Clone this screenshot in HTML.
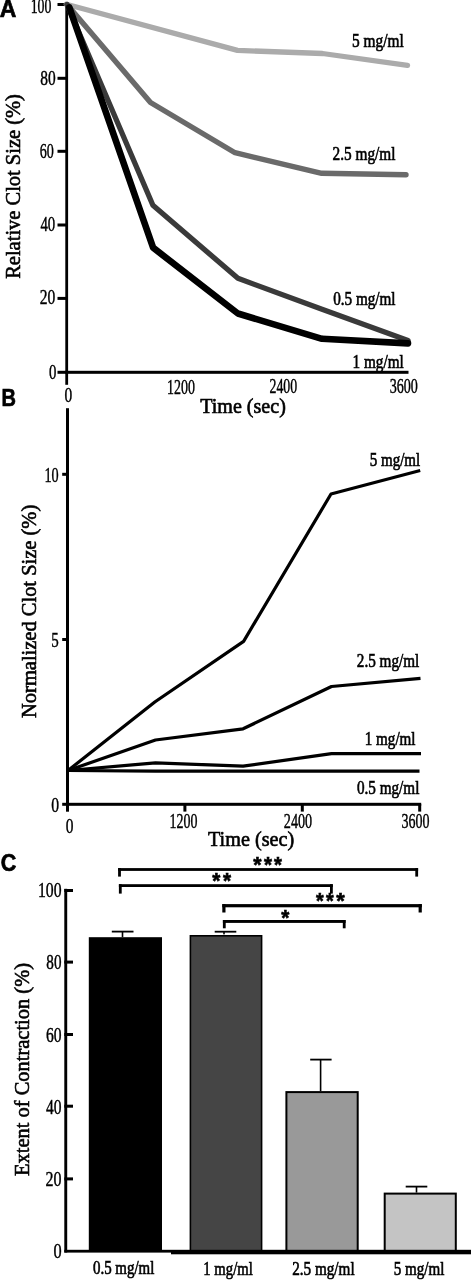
<!DOCTYPE html>
<html><head><meta charset="utf-8"><style>
html,body{margin:0;padding:0;background:#fff;}
body{width:471px;height:1280px;overflow:hidden;}
svg{display:block;will-change:transform;}
text{white-space:pre;}
</style></head><body>
<svg width="471" height="1280" viewBox="0 0 471 1280">
<rect width="471" height="1280" fill="#fff"/>
<rect x="65.3" y="3.0" width="2.80" height="381.80" fill="#000"/>
<rect x="57.5" y="3.0" width="8.50" height="3.00" fill="#000"/>
<rect x="57.5" y="76.8" width="8.50" height="3.00" fill="#000"/>
<rect x="57.5" y="149.8" width="8.50" height="3.00" fill="#000"/>
<rect x="57.5" y="223.5" width="8.50" height="3.00" fill="#000"/>
<rect x="57.5" y="296.9" width="8.50" height="3.00" fill="#000"/>
<rect x="57.5" y="370.8" width="8.50" height="3.00" fill="#000"/>
<rect x="65.3" y="370.8" width="343.20" height="3.00" fill="#000"/>
<polyline points="66.3,4.3 237.5,50.4 322.5,53.5 407.5,65.3" fill="none" stroke="#ababab" stroke-width="5.3" stroke-linecap="round" stroke-linejoin="round"/>
<polyline points="67,4.5 150.5,102.5 235,152.7 321.7,173.3 406,174.8" fill="none" stroke="#6a6a6a" stroke-width="5.4" stroke-linecap="round" stroke-linejoin="round"/>
<polyline points="67,4.5 152.9,205.3 237.9,278.3 322,309.2 408,340.5" fill="none" stroke="#3a3a3a" stroke-width="5.3" stroke-linecap="round" stroke-linejoin="round"/>
<polyline points="69.3,7.3 153.1,247.7 237.9,313.5 322,338.8 408,343.4" fill="none" stroke="#000" stroke-width="6.6" stroke-linecap="round" stroke-linejoin="round"/>
<rect x="66.0" y="408.2" width="3.00" height="403.50" fill="#000"/>
<rect x="62.2" y="472.8" width="4.30" height="3.00" fill="#000"/>
<rect x="62.2" y="638.0" width="4.30" height="3.00" fill="#000"/>
<rect x="62.2" y="802.8" width="4.30" height="3.00" fill="#000"/>
<rect x="66.0" y="802.8" width="355.20" height="3.00" fill="#000"/>
<rect x="183.4" y="804" width="3.00" height="7.60" fill="#000"/>
<rect x="300.8" y="804" width="3.00" height="7.60" fill="#000"/>
<rect x="418.2" y="804" width="3.00" height="7.60" fill="#000"/>
<polyline points="68,770.5 155.5,771.2 419.5,771.2" fill="none" stroke="#000" stroke-width="3.2" stroke-linecap="butt" stroke-linejoin="round"/>
<polyline points="68,770.5 155.5,762.8 243.1,766.2 331.5,753.6 421,753.6" fill="none" stroke="#000" stroke-width="3.2" stroke-linecap="butt" stroke-linejoin="round"/>
<polyline points="68,770.5 155.5,740 243.1,728.8 331.5,686.5 420.5,678.3" fill="none" stroke="#000" stroke-width="3.2" stroke-linecap="butt" stroke-linejoin="round"/>
<polyline points="68,770.5 154.8,702.0 243.6,641.4 331,494 420.2,470.5" fill="none" stroke="#000" stroke-width="3.2" stroke-linecap="butt" stroke-linejoin="round"/>
<rect x="88.8" y="937.2" width="73.20" height="313.80" fill="#000"/>
<rect x="190.4" y="935.8" width="71.20" height="315.20" fill="#454545" stroke="#000" stroke-width="1.6"/>
<rect x="286.4" y="1092.1" width="71.30" height="158.90" fill="#999" stroke="#000" stroke-width="2.0"/>
<rect x="384.7" y="1193.6" width="71.10" height="57.40" fill="#c4c4c4" stroke="#000" stroke-width="2.0"/>
<rect x="111.8" y="930.7" width="21.70" height="1.80" fill="#000"/>
<rect x="121.7" y="931.6" width="1.60" height="5.60" fill="#000"/>
<rect x="214.7" y="930.8000000000001" width="21.60" height="1.80" fill="#000"/>
<rect x="223.2" y="931.7" width="1.60" height="2.70" fill="#000"/>
<rect x="310.2" y="1058.6999999999998" width="21.40" height="1.80" fill="#000"/>
<rect x="319.8" y="1059.6" width="1.60" height="31.50" fill="#000"/>
<rect x="405.7" y="1185.6999999999998" width="21.60" height="1.80" fill="#000"/>
<rect x="415.7" y="1186.6" width="1.60" height="6.00" fill="#000"/>
<rect x="64.3" y="888.8" width="2.90" height="363.70" fill="#000"/>
<rect x="64.3" y="889.0" width="8.70" height="3.00" fill="#000"/>
<rect x="64.3" y="960.6" width="8.70" height="3.00" fill="#000"/>
<rect x="64.3" y="1033.0" width="8.70" height="3.00" fill="#000"/>
<rect x="64.3" y="1104.7" width="8.70" height="3.00" fill="#000"/>
<rect x="64.3" y="1177.4" width="8.70" height="3.00" fill="#000"/>
<rect x="64.3" y="1249.8" width="106.70" height="2.80" fill="#000"/>
<rect x="171" y="1249.8" width="300.00" height="4.50" fill="#000"/>
<rect x="118.1" y="868.1" width="300.00" height="2.80" fill="#000"/><rect x="118.1" y="868.1" width="2.80" height="8.50" fill="#000"/><rect x="415.3" y="868.1" width="2.80" height="8.50" fill="#000"/>
<rect x="118.9" y="884.2" width="213.90" height="2.80" fill="#000"/><rect x="118.9" y="884.2" width="2.80" height="9.40" fill="#000"/><rect x="330.0" y="884.2" width="2.80" height="9.40" fill="#000"/>
<rect x="222.3" y="904.1" width="199.50" height="3.20" fill="#000"/><rect x="222.3" y="904.1" width="3.20" height="8.40" fill="#000"/><rect x="418.6" y="904.1" width="3.20" height="8.40" fill="#000"/>
<rect x="222.9" y="920.0" width="122.70" height="2.90" fill="#000"/><rect x="222.9" y="920.0" width="2.80" height="8.30" fill="#000"/><rect x="342.8" y="920.0" width="2.80" height="8.30" fill="#000"/>
<text transform="translate(-0.16,17.40) scale(0.9559,1)" style="font-family:'Liberation Sans';font-weight:bold;font-size:24px" fill="#000" stroke="#000" stroke-width="0.7">A</text>
<text transform="translate(30.69,13.40) scale(0.6425,1)" style="font-family:'Liberation Serif';font-weight:normal;font-size:21.5px" fill="#000" stroke="#000" stroke-width="0.45">100</text>
<text transform="translate(40.34,84.50) scale(0.7175,1)" style="font-family:'Liberation Serif';font-weight:normal;font-size:21.5px" fill="#000" stroke="#000" stroke-width="0.45">80</text>
<text transform="translate(39.74,158.00) scale(0.6552,1)" style="font-family:'Liberation Serif';font-weight:normal;font-size:21.5px" fill="#000" stroke="#000" stroke-width="0.45">60</text>
<text transform="translate(40.45,230.80) scale(0.6880,1)" style="font-family:'Liberation Serif';font-weight:normal;font-size:21.5px" fill="#000" stroke="#000" stroke-width="0.45">40</text>
<text transform="translate(39.68,303.50) scale(0.7252,1)" style="font-family:'Liberation Serif';font-weight:normal;font-size:21.5px" fill="#000" stroke="#000" stroke-width="0.45">20</text>
<text transform="translate(48.96,378.50) scale(0.6871,1)" style="font-family:'Liberation Serif';font-weight:normal;font-size:21.5px" fill="#000" stroke="#000" stroke-width="0.45">0</text>
<text transform="translate(64.54,401.50) scale(0.7188,1)" style="font-family:'Liberation Serif';font-weight:normal;font-size:21.5px" fill="#000" stroke="#000" stroke-width="0.45">0</text>
<text transform="translate(167.08,393.50) scale(0.6497,1)" style="font-family:'Liberation Serif';font-weight:normal;font-size:21.5px" fill="#000" stroke="#000" stroke-width="0.45">1200</text>
<text transform="translate(269.55,393.40) scale(0.6435,1)" style="font-family:'Liberation Serif';font-weight:normal;font-size:21.5px" fill="#000" stroke="#000" stroke-width="0.45">2400</text>
<text transform="translate(389.74,393.00) scale(0.6555,1)" style="font-family:'Liberation Serif';font-weight:normal;font-size:21.5px" fill="#000" stroke="#000" stroke-width="0.45">3600</text>
<text transform="translate(352.03,47.30) scale(0.7894,1)" style="font-family:'Liberation Serif';font-weight:normal;font-size:19.5px" fill="#000" stroke="#000" stroke-width="0.65">5 mg/ml</text>
<text transform="translate(332.59,160.00) scale(0.7856,1)" style="font-family:'Liberation Serif';font-weight:normal;font-size:19.5px" fill="#000" stroke="#000" stroke-width="0.65">2.5 mg/ml</text>
<text transform="translate(333.14,305.20) scale(0.7787,1)" style="font-family:'Liberation Serif';font-weight:normal;font-size:19.5px" fill="#000" stroke="#000" stroke-width="0.65">0.5 mg/ml</text>
<text transform="translate(352.58,368.40) scale(0.7810,1)" style="font-family:'Liberation Serif';font-weight:normal;font-size:19.5px" fill="#000" stroke="#000" stroke-width="0.65">1 mg/ml</text>
<text transform="translate(200.20,413.00) scale(0.9123,1)" style="font-family:'Liberation Serif';font-weight:normal;font-size:22px" fill="#000" stroke="#000" stroke-width="0.65">Time (sec)</text>
<text transform="translate(20.00,278.81) rotate(-90) scale(0.9523,1)" style="font-family:'Liberation Serif';font-weight:normal;font-size:21.5px" fill="#000" stroke="#000" stroke-width="0.6">Relative Clot Size (%)</text>
<text transform="translate(1.50,405.50) scale(0.8333,1)" style="font-family:'Liberation Sans';font-weight:bold;font-size:24px" fill="#000" stroke="#000" stroke-width="0.7">B</text>
<text transform="translate(44.46,482.00) scale(0.6637,1)" style="font-family:'Liberation Serif';font-weight:normal;font-size:21.5px" fill="#000" stroke="#000" stroke-width="0.45">10</text>
<text transform="translate(51.25,647.30) scale(0.6977,1)" style="font-family:'Liberation Serif';font-weight:normal;font-size:21.5px" fill="#000" stroke="#000" stroke-width="0.45">5</text>
<text transform="translate(51.23,812.20) scale(0.7294,1)" style="font-family:'Liberation Serif';font-weight:normal;font-size:21.5px" fill="#000" stroke="#000" stroke-width="0.45">0</text>
<text transform="translate(65.74,833.20) scale(0.7188,1)" style="font-family:'Liberation Serif';font-weight:normal;font-size:21.5px" fill="#000" stroke="#000" stroke-width="0.45">0</text>
<text transform="translate(169.58,827.50) scale(0.6497,1)" style="font-family:'Liberation Serif';font-weight:normal;font-size:21.5px" fill="#000" stroke="#000" stroke-width="0.45">1200</text>
<text transform="translate(283.83,827.50) scale(0.6603,1)" style="font-family:'Liberation Serif';font-weight:normal;font-size:21.5px" fill="#000" stroke="#000" stroke-width="0.45">2400</text>
<text transform="translate(401.54,827.50) scale(0.6531,1)" style="font-family:'Liberation Serif';font-weight:normal;font-size:21.5px" fill="#000" stroke="#000" stroke-width="0.45">3600</text>
<text transform="translate(208.00,846.00) scale(0.9177,1)" style="font-family:'Liberation Serif';font-weight:normal;font-size:22px" fill="#000" stroke="#000" stroke-width="0.65">Time (sec)</text>
<text transform="translate(369.75,466.20) scale(0.7707,1)" style="font-family:'Liberation Serif';font-weight:normal;font-size:19.5px" fill="#000" stroke="#000" stroke-width="0.65">5 mg/ml</text>
<text transform="translate(356.79,667.00) scale(0.7806,1)" style="font-family:'Liberation Serif';font-weight:normal;font-size:19.5px" fill="#000" stroke="#000" stroke-width="0.65">2.5 mg/ml</text>
<text transform="translate(364.79,744.80) scale(0.7747,1)" style="font-family:'Liberation Serif';font-weight:normal;font-size:19.5px" fill="#000" stroke="#000" stroke-width="0.65">1 mg/ml</text>
<text transform="translate(356.94,793.60) scale(0.7787,1)" style="font-family:'Liberation Serif';font-weight:normal;font-size:19.5px" fill="#000" stroke="#000" stroke-width="0.65">0.5 mg/ml</text>
<text transform="translate(36.30,717.91) rotate(-90) scale(0.9522,1)" style="font-family:'Liberation Serif';font-weight:normal;font-size:21.5px" fill="#000" stroke="#000" stroke-width="0.6">Normalized Clot Size (%)</text>
<text transform="translate(0.64,871.00) scale(0.8965,1)" style="font-family:'Liberation Sans';font-weight:bold;font-size:24px" fill="#000" stroke="#000" stroke-width="0.7">C</text>
<text transform="translate(37.94,897.40) scale(0.7328,1)" style="font-family:'Liberation Serif';font-weight:normal;font-size:21.5px" fill="#000" stroke="#000" stroke-width="0.45">100</text>
<text transform="translate(46.35,969.40) scale(0.7026,1)" style="font-family:'Liberation Serif';font-weight:normal;font-size:21.5px" fill="#000" stroke="#000" stroke-width="0.45">80</text>
<text transform="translate(45.88,1041.50) scale(0.7252,1)" style="font-family:'Liberation Serif';font-weight:normal;font-size:21.5px" fill="#000" stroke="#000" stroke-width="0.45">60</text>
<text transform="translate(45.94,1113.80) scale(0.7219,1)" style="font-family:'Liberation Serif';font-weight:normal;font-size:21.5px" fill="#000" stroke="#000" stroke-width="0.45">40</text>
<text transform="translate(45.46,1185.70) scale(0.7452,1)" style="font-family:'Liberation Serif';font-weight:normal;font-size:21.5px" fill="#000" stroke="#000" stroke-width="0.45">20</text>
<text transform="translate(53.51,1257.80) scale(0.7611,1)" style="font-family:'Liberation Serif';font-weight:normal;font-size:21.5px" fill="#000" stroke="#000" stroke-width="0.45">0</text>
<text transform="translate(92.95,1274.00) scale(0.7660,1)" style="font-family:'Liberation Serif';font-weight:normal;font-size:19.5px" fill="#000" stroke="#000" stroke-width="0.65">0.5 mg/ml</text>
<text transform="translate(203.32,1274.50) scale(0.7543,1)" style="font-family:'Liberation Serif';font-weight:normal;font-size:19.5px" fill="#000" stroke="#000" stroke-width="0.65">1 mg/ml</text>
<text transform="translate(292.19,1274.50) scale(0.7793,1)" style="font-family:'Liberation Serif';font-weight:normal;font-size:19.5px" fill="#000" stroke="#000" stroke-width="0.65">2.5 mg/ml</text>
<text transform="translate(393.75,1274.50) scale(0.7739,1)" style="font-family:'Liberation Serif';font-weight:normal;font-size:19.5px" fill="#000" stroke="#000" stroke-width="0.65">5 mg/ml</text>
<text transform="translate(28.60,1175.91) rotate(-90) scale(0.9518,1)" style="font-family:'Liberation Serif';font-weight:normal;font-size:21.5px" fill="#000" stroke="#000" stroke-width="0.6">Extent of Contraction (%)</text>
<text transform="translate(253.30,872.10) scale(0.9853,1)" style="font-family:'Liberation Sans';font-weight:bold;font-size:21.6px" stroke="#000" stroke-width="0.6">*</text>
<text transform="translate(263.90,872.10) scale(0.9497,1)" style="font-family:'Liberation Sans';font-weight:bold;font-size:21.6px" stroke="#000" stroke-width="0.6">*</text>
<text transform="translate(274.00,872.10) scale(0.9378,1)" style="font-family:'Liberation Sans';font-weight:bold;font-size:21.6px" stroke="#000" stroke-width="0.6">*</text>
<text transform="translate(212.30,888.00) scale(0.9615,1)" style="font-family:'Liberation Sans';font-weight:bold;font-size:21.6px" stroke="#000" stroke-width="0.6">*</text>
<text transform="translate(222.90,888.00) scale(0.9615,1)" style="font-family:'Liberation Sans';font-weight:bold;font-size:21.6px" stroke="#000" stroke-width="0.6">*</text>
<text transform="translate(315.90,908.00) scale(0.9141,1)" style="font-family:'Liberation Sans';font-weight:bold;font-size:21.6px" stroke="#000" stroke-width="0.6">*</text>
<text transform="translate(326.10,908.00) scale(0.9141,1)" style="font-family:'Liberation Sans';font-weight:bold;font-size:21.6px" stroke="#000" stroke-width="0.6">*</text>
<text transform="translate(336.30,908.00) scale(1.0090,1)" style="font-family:'Liberation Sans';font-weight:bold;font-size:21.6px" stroke="#000" stroke-width="0.6">*</text>
<text transform="translate(281.20,924.70) scale(0.9615,1)" style="font-family:'Liberation Sans';font-weight:bold;font-size:21.6px" stroke="#000" stroke-width="0.6">*</text>
</svg>
</body></html>
